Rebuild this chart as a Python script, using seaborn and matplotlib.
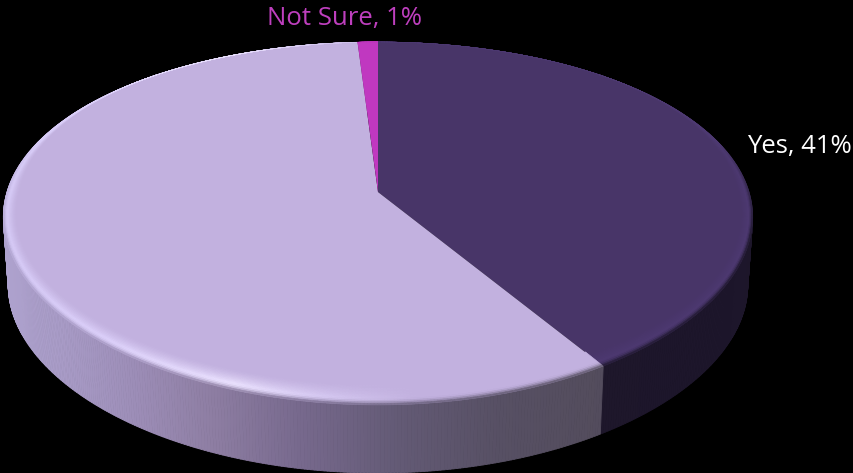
import numpy as np
import matplotlib
matplotlib.use("Agg")
import matplotlib.pyplot as plt
from matplotlib.collections import PolyCollection
from matplotlib.colors import to_rgb
from matplotlib.transforms import Transform
import seaborn as sns

# Survey answers, clockwise from twelve o'clock
categories = ["Yes", "No", "Not Sure"]
shares = [41, 58, 1]
face_colors = ["#483568", "#C2B1DF", "#C038C0"]

# Tilted-disc geometry in pixels
CX, CY = 378.0, 192.0
RX, RY = 371.0, 176.0
TILT_X, TILT_Y = 0.139, 0.1736
DEPTH = 68.0
BASE_SCALE = 0.987
BEVEL_SIDE = 0.035
BEVEL_FRONT = 0.085
GLOW_AT = 0.7

W, H = 854, 473

sns.set_theme(style="white", rc={"figure.facecolor": "black", "axes.facecolor": "black"})
plt.rcParams["font.family"] = ["Open Sans", "DejaVu Sans"]


class DiscProjection(Transform):
    """Perspective map from the unit pie circle to the tilted disc."""
    input_dims = 2
    output_dims = 2
    is_separable = False
    has_inverse = False

    def transform_non_affine(self, xy):
        xy = np.asarray(xy, dtype=float)
        return np.column_stack([CX + RX * xy[:, 0] / (1 + TILT_X * xy[:, 1]),
                                CY - RY * xy[:, 1] / (1 + TILT_Y * xy[:, 1])])


projection = DiscProjection()


def ring(phi, radius):
    return projection.transform_non_affine(
        np.column_stack([radius * np.sin(phi), radius * np.cos(phi)]))


def ramp(stops, x):
    """Colour at pixel column x along (column, colour) stops."""
    xs = [s[0] for s in stops]
    rgb = np.array([to_rgb(s[1]) for s in stops])
    return np.array([np.interp(x, xs, rgb[:, i]) for i in range(3)]).T


# Shading along the side wall and the lit bevel, by pixel column
wall_stops = [
    [(0, "#1F182E"), (854, "#1D162A")],
    [(0, "#AEA2CE"), (60, "#A89BC6"), (130, "#9D8EB8"), (210, "#8E7EA3"),
     (300, "#77698D"), (400, "#635A75"), (500, "#575064"), (610, "#534C5C")],
    [(0, "#5F1C60"), (854, "#5F1C60")],
]
glow_stops = [
    [(0, "#4D3971"), (854, "#4D3971")],
    [(0, "#D6CAF6"), (100, "#DCD0FA"), (230, "#EBE2FF"), (320, "#D6C9F2"),
     (420, "#C2B1DF"), (610, "#C2B1DF")],
    [(0, "#C038C0"), (854, "#C038C0")],
]

fig = plt.figure(figsize=(W / 100, H / 100), dpi=100)
ax = fig.add_axes([0, 0, 1, 1])

wedges, _ = ax.pie(shares, colors=face_colors, startangle=90, counterclock=False,
                   wedgeprops={"linewidth": 0})
for wedge in wedges:
    wedge.set_transform(projection + ax.transData)
    wedge.set_zorder(2)

edges = np.concatenate([[0], np.cumsum(shares)]) / np.sum(shares) * 2 * np.pi
for i, face in enumerate(face_colors):
    phi = np.linspace(edges[i], edges[i + 1], max(6, int(shares[i] * 8)))
    top = ring(phi, 1.0)
    bottom = np.column_stack([CX + (top[:, 0] - CX) * BASE_SCALE, top[:, 1] + DEPTH])
    mid_phi = 0.5 * (phi[:-1] + phi[1:])
    mids = 0.5 * (top[:-1, 0] + top[1:, 0])
    wall_rgb = ramp(wall_stops[i], mids)

    # Side wall
    quads = [[top[j], top[j + 1], bottom[j + 1], bottom[j]] for j in range(len(phi) - 1)]
    ax.add_collection(PolyCollection(quads, facecolors=wall_rgb, edgecolors=wall_rgb,
                                     linewidths=0.6, zorder=1))

    # Bevel: face colour, through the glow, softly into the wall colour on the
    # side facing the viewer; it thins out and stops at the far edge
    glow_rgb = ramp(glow_stops[i], mids)
    face_rgb = np.array(to_rgb(face))
    lit = np.clip((0.75 - np.cos(phi)) / 0.75, 0, 1)
    fade = np.clip((0.3 - np.cos(mid_phi)) / 0.5, 0, 1)
    inset = (BEVEL_SIDE * np.sin(phi) ** 2 * lit
             + BEVEL_FRONT * np.cos(phi) ** 2 * (np.cos(phi) < 0))
    steps = np.linspace(0, 1, 15)
    bevel, bevel_rgb = [], []
    for a, b in zip(steps[:-1], steps[1:]):
        ring_a = ring(phi, 1 - inset * (1 - a))
        ring_b = ring(phi, 1 - inset * (1 - b))
        t = 0.5 * (a + b)
        for j in range(len(phi) - 1):
            if t < GLOW_AT:
                u = (t / GLOW_AT) ** 1.5
                c = face_rgb * (1 - u) + glow_rgb[j] * u
            else:
                u = ((t - GLOW_AT) / (1 - GLOW_AT)) ** 2 * fade[j]
                c = glow_rgb[j] * (1 - u) + wall_rgb[j] * u
            bevel.append([ring_a[j], ring_a[j + 1], ring_b[j + 1], ring_b[j]])
            bevel_rgb.append(c)
    ax.add_collection(PolyCollection(bevel, facecolors=bevel_rgb, edgecolors=bevel_rgb,
                                     linewidths=0.4, zorder=3))

ax.text(747, 146, f"{categories[0]}, {shares[0]}%", color="white", fontsize=18.5,
        ha="left", va="center")
ax.text(345, 18, f"{categories[2]}, {shares[2]}%", color="#BE3FBE", fontsize=18.5,
        ha="center", va="center")

ax.set_aspect("auto")
ax.set_xlim(0, W)
ax.set_ylim(H, 0)
ax.axis("off")
fig.savefig("out.png", dpi=100, facecolor="black")
